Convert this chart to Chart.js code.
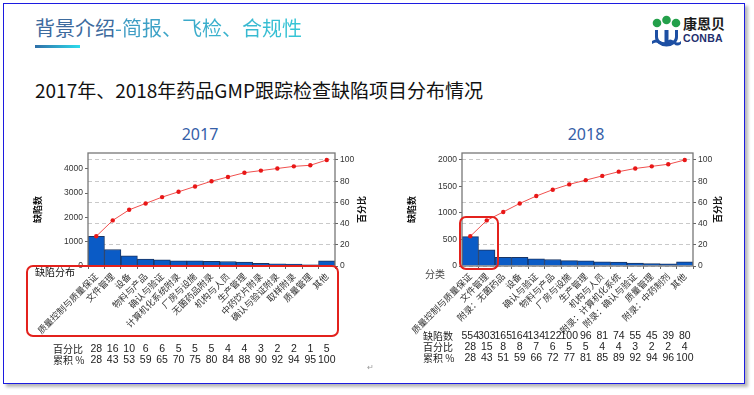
<!DOCTYPE html>
<html>
<head>
<meta charset="utf-8">
<script src="https://cdn.jsdelivr.net/npm/chart.js@4.4.1/dist/chart.umd.min.js"></script>
<style>
  body { margin: 0; width: 754px; height: 395px; background: #fff; position: relative; overflow: hidden; font-family: "Noto Sans CJK SC", sans-serif; }
  .abs { position: absolute; }
  #frame { left: 3px; top: 3px; width: 740px; height: 379px; border: 1.5px solid #1c1ce0; box-shadow: 3px 3px 3px #b8b8b8; }
  #head { left: 35px; top: 16px; font-size: 20px; line-height: 24px; white-space: nowrap; }
  #head .a { color: #3d6b9e; }
  #head .b { background: linear-gradient(90deg, #3f98c2, #35c6d6); -webkit-background-clip: text; background-clip: text; color: transparent; }
  #bar { left: 35px; top: 45px; width: 45px; height: 2.5px; background: linear-gradient(90deg, #2f6fa8, #2ddcec); }
  #sub { left: 35px; top: 79px; font-size: 19px; line-height: 22px; color: #111; white-space: nowrap; }
  #logoTxt { left: 683px; top: 15px; font-size: 14px; font-weight: bold; color: #1b1b1b; line-height: 17px; }
  #logoEn { left: 683px; top: 32px; font: bold 10.5px "Liberation Sans", sans-serif; color: #1e2f6e; letter-spacing: 0.3px; }
  .ct { top: 123px; font: 16px "Noto Sans", sans-serif; color: #3560a8; width: 60px; text-align: center; }
  #mark { left: 367px; top: 361px; font-size: 8px; color: #999; }
</style>
</head>
<body>
<div class="abs" id="frame"></div>
<div class="abs" id="head"><span class="a">背景介绍</span><span class="b">-简报、飞检、合规性</span></div>
<div class="abs" id="bar"></div>
<div class="abs" id="sub">2017年、2018年药品GMP跟踪检查缺陷项目分布情况</div>
<svg class="abs" style="left:651px;top:15px" width="31" height="32" viewBox="0 0 31 32">
  <circle cx="6" cy="8" r="4.3" fill="#23a04a"/>
  <circle cx="15.5" cy="5" r="4.3" fill="#23a04a"/>
  <circle cx="25" cy="8" r="4.3" fill="#23a04a"/>
  <path d="M4 15 v7 a11 9 0 0 0 23 0 v-7 h-3 v7 a8.5 6 0 0 1 -6.5 5.6 v-12.6 h-4 v12.6 a8.5 6 0 0 1 -6.5 -5.6 v-7 z" fill="#1d4fa3"/>
  <path d="M1 26 q4 -3 8 0 q4 3 7 0 q3 -3 7 0 q4 3 7 0 v3 q-4 3 -7 0 q-3 -3 -7 0 q-3 3 -7 0 q-4 -3 -8 0 z" fill="#1d4fa3"/>
</svg>
<div class="abs" id="logoTxt">康恩贝</div>
<div class="abs" id="logoEn">CONBA</div>
<div class="abs ct" style="left:170px">2017</div>
<div class="abs ct" style="left:556px">2018</div>
<div class="abs" style="left:20px;top:120px;width:360px;height:260px"><canvas id="c2017"></canvas></div>
<div class="abs" style="left:400px;top:120px;width:330px;height:260px"><canvas id="c2018"></canvas></div>
<div class="abs" id="mark">↵</div>

<script>
// 2017 数据
const cats2017 = ['质量控制与质量保证', '文件管理', '设备', '物料与产品', '确认与验证', '计算机化系统附录',
  '厂房与设施', '无菌药品附录', '机构与人员', '生产管理', '中药饮片附录', '确认与验证附录', '取样附录', '质量管理', '其他']
const counts2017 = [1215, 680, 420, 280, 255, 215, 210, 190, 185, 160, 105, 90, 80, 50, 215]
const pct2017 = [28, 16, 10, 6, 6, 5, 5, 5, 4, 4, 3, 2, 2, 1, 5]
const cum2017 = [28, 43, 53, 59, 65, 70, 75, 80, 84, 88, 90, 92, 94, 95, 100]
const countTicks2017 = [0, 1000, 2000, 3000, 4000]

// 2018 数据
const cats2018 = ['质量控制与质量保证', '文件管理', '附录：无菌药品', '设备', '确认与验证', '物料与产品',
  '厂房与设施', '生产管理', '机构与人员', '附录：计算机化系统', '附录：确认与验证', '质量管理', '附录：中药制剂', '其他']
const counts2018 = [554, 303, 165, 164, 134, 122, 100, 96, 81, 74, 55, 45, 39, 80]
const pct2018 = [28, 15, 8, 8, 7, 6, 5, 5, 4, 4, 3, 2, 2, 4]
const cum2018 = [28, 43, 51, 59, 66, 72, 77, 81, 85, 89, 92, 94, 96, 100]
const countTicks2018 = [0, 500, 1000, 1500, 2000]

const pctTicks = [0, 20, 40, 60, 80, 100]

const CJK = '"Noto Sans CJK SC", sans-serif'
const NUM = '"Liberation Sans", sans-serif'

// frame, axis titles, table under the axis, corner label and red box
const paretoExtras = {
  id: 'paretoExtras',
  afterDraw(chart, args, o) {
    const { ctx, chartArea: a } = chart
    const x = chart.scales.x
    ctx.save()
    ctx.strokeStyle = '#777'
    ctx.lineWidth = 1.3
    ctx.strokeRect(a.left, a.top, a.right - a.left, a.bottom - a.top)

    // axis titles, both read bottom to top
    const midY = (a.top + a.bottom) / 2
    ctx.fillStyle = '#111'
    ctx.font = 'bold 9px ' + CJK
    ctx.textAlign = 'center'
    ctx.textBaseline = 'middle'
    ;[[a.left + o.leftTitleDx, '缺陷数'], [a.right + o.rightTitleDx, '百分比']].forEach(([tx, t]) => {
      ctx.save()
      ctx.translate(tx, midY)
      ctx.rotate(-Math.PI / 2)
      ctx.fillText(t, 0, 0)
      ctx.restore()
    })

    ctx.fillStyle = o.cornerColor
    ctx.textAlign = 'left'
    ctx.font = '10px ' + CJK
    ctx.fillText(o.corner, a.left + o.cornerDx, a.bottom + o.cornerDy)

    o.rows.forEach((r, k) => {
      const y = a.bottom + o.rowTop + k * o.rowGap
      ctx.fillStyle = '#222'
      ctx.textAlign = 'left'
      ctx.font = '10px ' + CJK
      ctx.fillText(r.label, a.left + o.labelDx, y)
      ctx.textAlign = 'center'
      ctx.font = '10.5px ' + NUM
      r.values.forEach((v, i) => ctx.fillText(String(v), x.getPixelForValue(i), y))
    })

    const b = o.box
    let x1, x2
    if (b.kind === 'bars') {
      const w = x.getPixelForValue(1) - x.getPixelForValue(0)
      x1 = x.getPixelForValue(b.first) - w / 2 - 2
      x2 = x.getPixelForValue(b.last) + w / 2 + 3
    } else {
      x1 = a.left + b.dl
      x2 = a.right + b.dr
    }
    ctx.strokeStyle = '#e3211c'
    ctx.lineWidth = 2
    ctx.beginPath()
    ctx.roundRect(x1, a.bottom + b.top, x2 - x1, b.bottom - b.top, 6)
    ctx.stroke()
    ctx.restore()
  }
}

function makeChart(id, cats, counts, cum, countTicks, opt) {
  const ctx = document.getElementById(id).getContext('2d')
  return new Chart(ctx, {
    data: {
      labels: cats,
      datasets: [{
        type: 'line',
        data: cum,
        yAxisID: 'y1',
        borderColor: '#f0504e',
        borderWidth: 1,
        pointRadius: 2.2,
        pointBackgroundColor: '#e81717',
        pointBorderWidth: 0,
        order: 0
      }, {
        type: 'bar',
        data: counts,
        yAxisID: 'y',
        backgroundColor: '#0a5bc6',
        borderColor: '#1a3563',
        borderWidth: 1,
        categoryPercentage: 1,
        barPercentage: 1,
        order: 1
      }]
    },
    options: {
      responsive: true,
      maintainAspectRatio: false,
      animation: false,
      layout: { padding: { top: 33, left: 0, right: 0, bottom: 0 } },
      plugins: {
        legend: { display: false },
        tooltip: { enabled: false },
        paretoExtras: opt.extras
      },
      scales: {
        x: {
          afterFit: s => { s.height = 114 },
          grid: { drawOnChartArea: false, drawTicks: true, tickLength: 3, tickColor: '#666' },
          border: { display: false },
          ticks: { autoSkip: false, minRotation: 45, maxRotation: 45, padding: 2, color: '#333', font: { family: CJK, size: 9 } }
        },
        y: {
          position: 'left',
          min: 0, max: opt.countMax,
          afterFit: s => { s.width = opt.leftW },
          afterBuildTicks: s => { s.ticks = countTicks.map(v => ({ value: v })) },
          grid: { drawOnChartArea: false, tickLength: 3, tickColor: '#666' },
          border: { display: false },
          ticks: { color: '#333', padding: 2, font: { family: NUM, size: 8.5 }, callback: v => v }
        },
        y1: {
          position: 'right',
          min: 0, max: opt.pctMax,
          afterFit: s => { s.width = opt.rightW },
          afterBuildTicks: s => { s.ticks = pctTicks.map(v => ({ value: v })) },
          grid: { drawOnChartArea: true, color: '#c9c9c9', lineWidth: 1, tickLength: 3, tickColor: '#666' },
          border: { display: false, dash: [4, 3] },
          ticks: { color: '#333', padding: 2, font: { family: NUM, size: 8.5 }, callback: v => v }
        }
      }
    },
    plugins: [paretoExtras]
  })
}

makeChart('c2017', cats2017, counts2017, cum2017, countTicks2017, {
  countMax: 4645, pctMax: 106.6, leftW: 68, rightW: 45,
  extras: {
    leftTitleDx: -50, rightTitleDx: 27,
    corner: '缺陷分布', cornerColor: '#111', cornerDx: -53, cornerDy: 6,
    labelDx: -35, rowTop: 83, rowGap: 11.5,
    rows: [{ label: '百分比', values: pct2017 }, { label: '累积 %', values: cum2017 }],
    box: { kind: 'labels', dl: -61, dr: 3, top: 0, bottom: 70 }
  }
})

makeChart('c2018', cats2018, counts2018, cum2018, countTicks2018, {
  countMax: 2132, pctMax: 106.6, leftW: 62, rightW: 37,
  extras: {
    leftTitleDx: -50, rightTitleDx: 25,
    corner: '分类', cornerColor: '#444', cornerDx: -37, cornerDy: 8,
    labelDx: -39, rowTop: 70, rowGap: 11.3,
    rows: [{ label: '缺陷数', values: counts2018 }, { label: '百分比', values: pct2018 }, { label: '累积 %', values: cum2018 }],
    box: { kind: 'bars', first: 0, last: 1, top: -49, bottom: 3 }
  }
})
</script>
</body>
</html>
